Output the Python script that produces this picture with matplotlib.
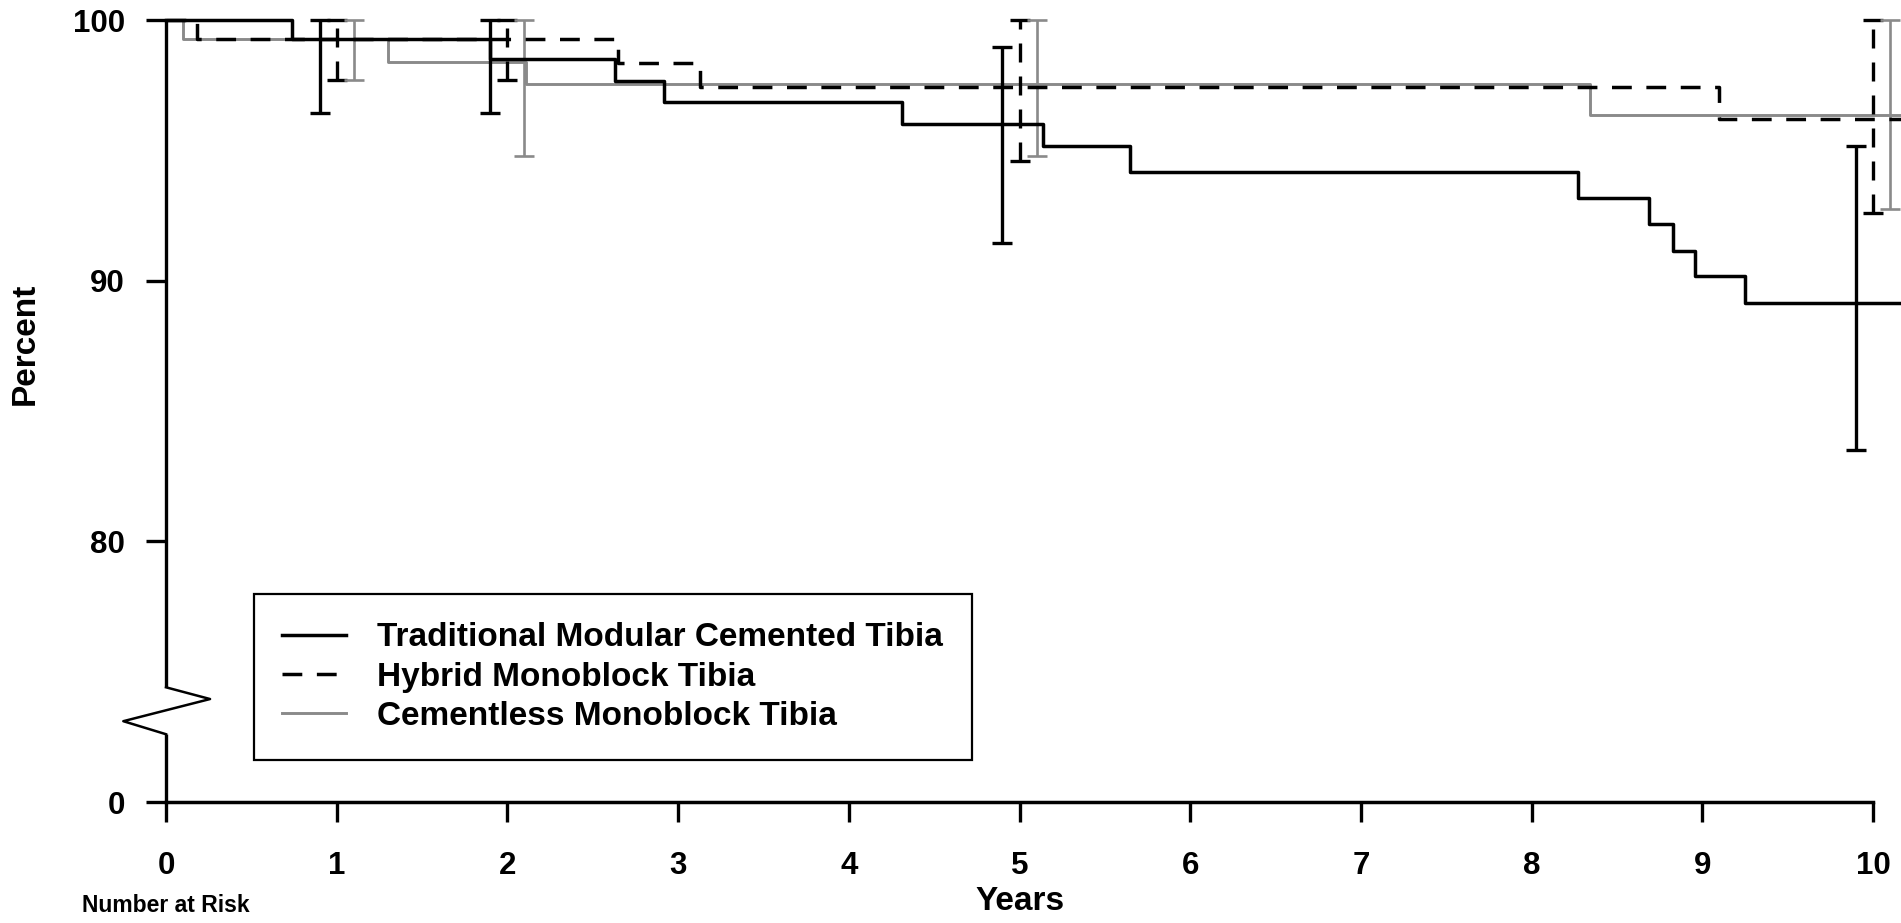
import numpy as np
import matplotlib
matplotlib.use("Agg")
import matplotlib.pyplot as plt

plt.rcParams['font.family'] = ['Liberation Sans', 'DejaVu Sans']
plt.rcParams['font.weight'] = 'bold'

# Kaplan-Meier survival steps (years, percent)
trad_t = [0, 0.74, 1.90, 2.63, 2.92, 4.31, 5.14, 5.65, 8.27, 8.69, 8.83, 8.96, 9.25, 10.3]
trad_s = [100, 99.27, 98.5, 97.66, 96.85, 96.0, 95.16, 94.17, 93.17, 92.17, 91.13, 90.17, 89.15, 89.15]

hyb_t = [0, 0.18, 2.65, 3.13, 9.10, 10.3]
hyb_s = [100, 99.27, 98.35, 97.42, 96.2, 96.2]

cem_t = [0, 0.10, 1.30, 2.11, 8.34, 10.3]
cem_s = [100, 99.27, 98.4, 97.53, 96.35, 96.35]

# confidence intervals at 1, 2, 5, 10 years (dodged by group)
trad_ci_x = [0.9, 1.9, 4.9, 9.9]
trad_ci_lo = [96.44, 96.44, 91.45, 83.5]
trad_ci_hi = [100, 100, 98.98, 95.18]

hyb_ci_x = [1.0, 2.0, 5.0, 10.0]
hyb_ci_lo = [97.7, 97.7, 94.6, 92.6]
hyb_ci_hi = [100, 100, 100, 100]

cem_ci_x = [1.1, 2.1, 5.1, 10.1]
cem_ci_lo = [97.7, 94.8, 94.8, 92.76]
cem_ci_hi = [100, 100, 100, 100]

labels = ['Traditional Modular Cemented Tibia', 'Hybrid Monoblock Tibia',
          'Cementless Monoblock Tibia']

# the break: "0" sits where 70 would be on a linear scale
y_ticks = [70, 80, 90, 100]
y_tick_labels = ['0', '80', '90', '100']
x_ticks = np.arange(0, 11)

W, H = 1901, 923
fig = plt.figure(figsize=(W / 100, H / 100), dpi=100)
ax = fig.add_axes([166 / W, 1 - 802 / H, (W - 166) / W, (802 - 20) / H])

gray = '#8a8a8a'
dash = (5.7, 4.2)


def step_value(t, s, x):
    i = np.searchsorted(t, x, side='right') - 1
    return np.asarray(s)[i]


def ci(x, lo, hi, t, s, color, lw, dashed=False):
    c = step_value(t, s, x)
    yerr = [c - np.asarray(lo), np.asarray(hi) - c]
    eb = ax.errorbar(x, c, yerr=yerr, fmt='none', ecolor=color, elinewidth=lw,
                     capsize=7.2, capthick=lw, clip_on=False, zorder=3)
    if dashed:
        eb[2][0].set_linestyle((0, dash))
    for art in eb[1]:
        art.set_clip_on(False)
    for art in eb[2]:
        art.set_clip_on(False)


ax.plot(trad_t, trad_s, drawstyle='steps-post', color='black', lw=2.5,
        label=labels[0], clip_on=False, zorder=4)
ax.plot(hyb_t, hyb_s, drawstyle='steps-post', color='black', lw=2.5,
        dashes=dash, label=labels[1], clip_on=False, zorder=4)
ax.plot(cem_t, cem_s, drawstyle='steps-post', color=gray, lw=2.1,
        label=labels[2], clip_on=False, zorder=3)

ci(trad_ci_x, trad_ci_lo, trad_ci_hi, trad_t, trad_s, 'black', 2.4)
ci(hyb_ci_x, hyb_ci_lo, hyb_ci_hi, hyb_t, hyb_s, 'black', 2.4, dashed=True)
ci(cem_ci_x, cem_ci_lo, cem_ci_hi, cem_t, cem_s, gray, 1.9)

ax.set_xlim(0, (W - 166) / 170.7)
ax.set_ylim(70, 100)
ax.set_xticks(x_ticks)
ax.set_yticks(y_ticks)
ax.set_yticklabels(y_tick_labels)

for side in ['top', 'right', 'left']:
    ax.spines[side].set_visible(False)
ax.spines['bottom'].set_linewidth(2.5)
ax.spines['bottom'].set_bounds(0, 10)

# y axis line with zigzag break
zx = [0, 0, 0.258, -0.25, 0, 0]
zy = [100, 74.4, 73.95, 73.1, 72.6, 70]
ax.plot(zx[:2], zy[:2], color='black', lw=2.4, clip_on=False, solid_capstyle='butt')
ax.plot(zx[1:5], zy[1:5], color='black', lw=1.8, clip_on=False)
ax.plot(zx[4:], zy[4:], color='black', lw=2.4, clip_on=False, solid_capstyle='butt')

ax.tick_params(axis='both', direction='out', length=14.5, width=2.4,
               labelsize=22.5)
ax.tick_params(axis='x', pad=21)
ax.tick_params(axis='y', pad=15)

fig.text(25 / W, 1 - 344 / H, 'Percent', rotation=90, ha='center', va='center',
         fontsize=24, fontweight='bold')
fig.text(1020 / W, 1 - 902 / H, 'Years', ha='center', va='center',
         fontsize=24, fontweight='bold')
fig.text(82 / W, 1 - 906 / H, 'Number at Risk', ha='left', va='center',
         fontsize=16.5, fontweight='bold')

leg = ax.legend(loc='upper left', bbox_to_anchor=(254 / W, 1 - 594 / H),
                bbox_transform=fig.transFigure, borderaxespad=0, fontsize=24,
                frameon=True, fancybox=False, handlelength=1.9,
                handletextpad=0.95, borderpad=0.85, labelspacing=0.25)
leg.get_frame().set_edgecolor('black')
leg.get_frame().set_linewidth(1.6)
leg.get_frame().set_alpha(1)

fig.savefig('out.png', dpi=100, facecolor='white')
